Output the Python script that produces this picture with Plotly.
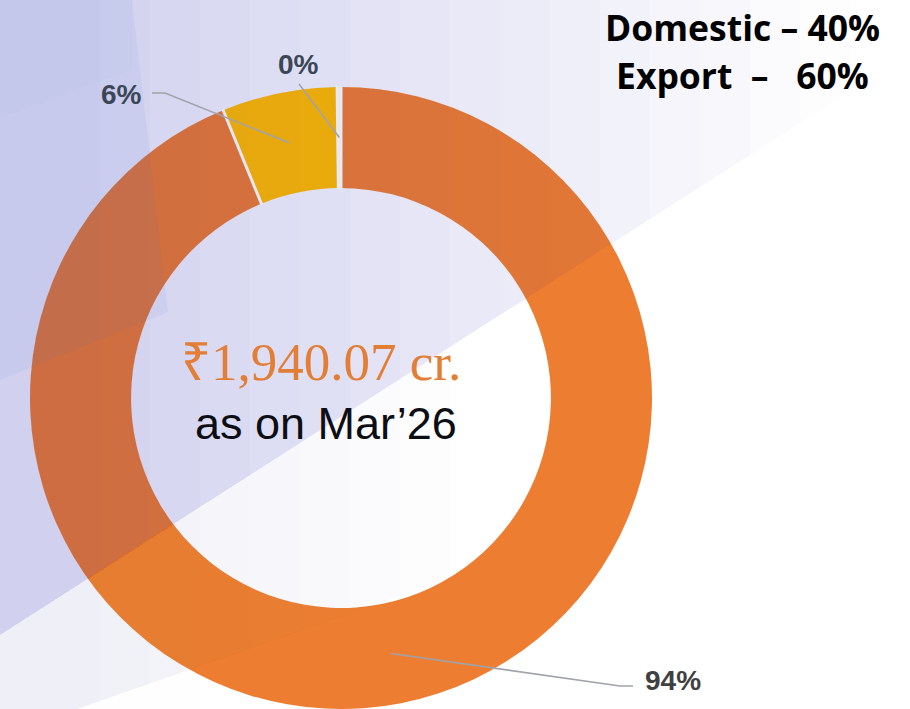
import math
import plotly.graph_objects as go

# ---------------- data ----------------
categories = ["Segment A", "Segment B", "Segment C"]
values = [94.0, 6.0, 0.2]
slice_colors = ["#ED7D31", "#FFC000", "#F6F6F6"]
center_value = "₹1,940.07 cr."
center_caption = "as on Mar’26"
split_lines = ["Domestic – 40%", "Export\u00a0\u00a0–\u00a0\u00a0\u00a060%"]

# ---------------- layout geometry (pixels) ----------------
W, H = 910, 709
CX, CY = 341, 398
R_OUT = 311
HOLE = 0.675
R_IN = R_OUT * HOLE


def X(px):
    return px / W


def Y(py):
    return 1 - py / H


def path(points, close=False):
    s = "M " + " L ".join(f"{X(a):.5f},{Y(b):.5f}" for a, b in points)
    return s + (" Z" if close else "")


fig = go.Figure()
fig.add_trace(go.Pie(
    labels=categories,
    values=values,
    hole=HOLE,
    sort=False,
    direction="clockwise",
    rotation=0,
    textinfo="none",
    marker=dict(colors=slice_colors, line=dict(width=0)),
    domain=dict(x=[X(CX - R_OUT), X(CX + R_OUT)], y=[Y(CY + R_OUT), Y(CY - R_OUT)]),
    showlegend=False,
    hoverinfo="label+percent",
))

shapes = []
annotations = []

total = sum(values)


def polar(frac, r):
    th = 2 * math.pi * frac
    return (CX + r * math.sin(th), CY - r * math.cos(th))


# ---- white separators between slices (at data boundaries) ----
cum = 0.0
for v in values:
    f = cum / total
    shapes.append(dict(type="path", xref="paper", yref="paper",
                       path=path([polar(f, R_IN - 1), polar(f, R_OUT + 1)]),
                       line=dict(color="#FFFFFF", width=3), layer="above"))
    cum += v


def line1(x):  # upper diagonal band edge
    return 635 - 0.64 * x


def line2(x):  # lower soft band edge
    return 736 - 0.35 * x


def add_tint(pts, op, col, layer):
    shapes.append(dict(type="path", xref="paper", yref="paper", path=path(pts, True),
                       fillcolor=col, opacity=op, line=dict(width=0), layer=layer))


def band1(xk):
    return [(0, 0), (xk, 0), (xk, line1(xk)), (0, line1(0))]


def band2(xk):
    return [(0, line1(0)), (xk, line1(xk)), (xk, line2(xk)), (0, line2(0))]


# ---- background-only tint (under the ring) ----
for xk in range(100, 751, 50):
    add_tint(band1(xk), 0.017, "#B0C6E6", "below")
for xk in range(100, 451, 50):
    add_tint(band2(xk), 0.012, "#C5CFDA", "below")
add_tint([(0, line2(0)), (200, line2(200)), (200, 709), (0, 709)], 0.025, "#C5D0DC", "below")

# ---- tint over everything (shades the ring too) ----
BLUE = "#4A78C0"
for xk in range(100, 851, 50):
    add_tint(band1(xk), 0.0115, BLUE, "above")
# left vertical panel
add_tint([(0, 0), (132, 0), (168, 312), (0, 380)], 0.07, BLUE, "above")
add_tint([(0, 0), (132, 0), (132, 70), (0, 117)], 0.025, BLUE, "above")
# soft lower band
for xk in range(100, 451, 50):
    add_tint(band2(xk), 0.008, "#5C7594", "above")

# ---------------- leader lines & labels (anchored at slice mid-angle) ----------------
r_mid = (R_OUT + R_IN) / 2
cum = 0.0
anchors = []
for v in values:
    anchors.append(polar((cum + v / 2) / total, r_mid))
    cum += v
pct = [f"{round(100 * v / total)}%" for v in values]

# label layout per slice: (elbow, end, label pos, xanchor, color)
label_style = [
    ((620, 686), (633, 686), (643, 680), "left", "#404040"),
    ((165, 93), (152, 93), (144, 94), "right", "#3B4656"),
    ((299, 84), (299, 84), (298, 65), "center", "#3B4656"),
]
for (ax, ay), (elb, end, lab, xa, col), txt in zip(anchors, label_style, pct):
    shapes.append(dict(type="path", xref="paper", yref="paper",
                       path=path([(ax, ay), elb, end]),
                       line=dict(color="#A0A4AA", width=1.6), layer="above"))
    annotations.append(dict(x=X(lab[0]), y=Y(lab[1]), xref="paper", yref="paper",
                            text=txt, showarrow=False, xanchor=xa, yanchor="middle",
                            font=dict(family="Liberation Sans, Arial", size=28,
                                      color=col, weight="bold")))

# ---------------- centre text ----------------
annotations.append(dict(x=X(321), y=Y(362), xref="paper", yref="paper", text=center_value,
                        showarrow=False, xanchor="center", yanchor="middle",
                        font=dict(family="Liberation Serif, Times New Roman, serif",
                                  size=53, color="#E27E35")))
annotations.append(dict(x=X(326), y=Y(423), xref="paper", yref="paper", text=center_caption,
                        showarrow=False, xanchor="center", yanchor="middle",
                        font=dict(family="Liberation Sans, Arial", size=45, color="#0D0D14")))

# ---------------- top-right split ----------------
for txt, yy in zip(split_lines, [27, 75]):
    annotations.append(dict(x=X(742), y=Y(yy), xref="paper", yref="paper", text=txt,
                            showarrow=False, xanchor="center", yanchor="middle",
                            font=dict(family="Open Sans, Noto Sans", size=35.5,
                                      color="#000000", weight="bold")))

fig.update_layout(
    width=W, height=H,
    margin=dict(l=0, r=0, t=0, b=0),
    paper_bgcolor="#FFFFFF",
    plot_bgcolor="#FFFFFF",
    shapes=shapes,
    annotations=annotations,
)

fig.write_html("out.html", config={"displayModeBar": False},
               post_script="document.body.style.margin='0';document.body.style.overflow='hidden';")
